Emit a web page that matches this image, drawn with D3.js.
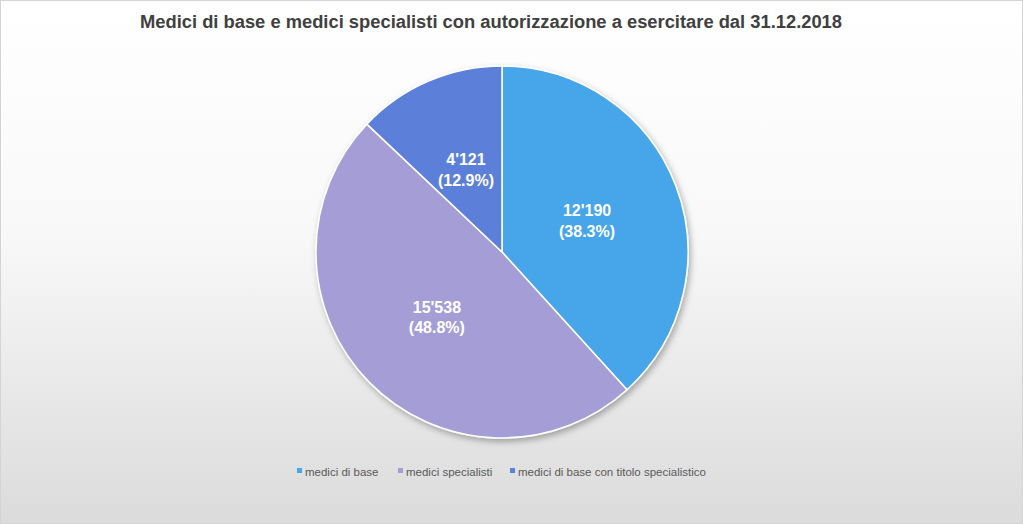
<!DOCTYPE html>
<html>
<head>
<meta charset="utf-8">
<script src="https://d3js.org/d3.v7.min.js"></script>
<style>
  body { margin: 0; }
  svg { display: block; font-family: "Liberation Sans", Arial, sans-serif; }
</style>
</head>
<body>
<svg width="1023" height="524"></svg>
<script>
// chart data
var titleText = "Medici di base e medici specialisti con autorizzazione a esercitare dal 31.12.2018";
var categories = ["medici di base", "medici specialisti", "medici di base con titolo specialistico"];
var values = [12190, 15538, 4121];
var colors = ["#47a5ea", "#a59dd5", "#5b80da"];

var svg = d3.select("svg"),
    width = +svg.attr("width"),
    height = +svg.attr("height");

var defs = svg.append("defs");
var grad = defs.append("linearGradient")
    .attr("id", "bg").attr("x1", 0).attr("y1", 0).attr("x2", 0).attr("y2", 1);
grad.append("stop").attr("offset", "0%").attr("stop-color", "#ffffff");
grad.append("stop").attr("offset", "45%").attr("stop-color", "#f8f8f8");
grad.append("stop").attr("offset", "100%").attr("stop-color", "#dbdbdb");

var shadow = defs.append("filter").attr("id", "shadow")
    .attr("x", "-10%").attr("y", "-10%").attr("width", "130%").attr("height", "130%");
shadow.append("feDropShadow")
    .attr("dx", 2).attr("dy", 3).attr("stdDeviation", 3)
    .attr("flood-color", "#000").attr("flood-opacity", 0.3);

// background + border
svg.append("rect")
    .attr("x", 0.5).attr("y", 0.5)
    .attr("width", width - 1).attr("height", height - 1)
    .attr("fill", "url(#bg)")
    .attr("stroke", "#d4d4d4");

// title
svg.append("text")
    .attr("x", 491).attr("y", 28)
    .attr("text-anchor", "middle")
    .attr("font-size", 17.5)
    .attr("font-weight", "bold")
    .attr("fill", "#404040")
    .attr("textLength", 702)
    .attr("lengthAdjust", "spacingAndGlyphs")
    .text(titleText);

// pie
var cx = 502, cy = 252, radius = 186;
var total = d3.sum(values);
var fmt = d3.formatLocale({ decimal: ".", thousands: "'", grouping: [3], currency: ["", ""] }).format(",d");

var pie = d3.pie().sort(null).value(function (d) { return d; });
var arcs = pie(values);
var arc = d3.arc().innerRadius(0).outerRadius(radius);
var labelArc = d3.arc().innerRadius(radius * 0.49).outerRadius(radius * 0.49);

var g = svg.append("g").attr("transform", "translate(" + cx + "," + cy + ")");

g.append("g").attr("filter", "url(#shadow)")
  .selectAll("path")
  .data(arcs)
  .enter().append("path")
    .attr("d", arc)
    .attr("fill", function (d, i) { return colors[i]; })
    .attr("stroke", "#ffffff")
    .attr("stroke-width", 1.5);

var labels = g.selectAll("text.lbl")
  .data(arcs)
  .enter().append("text")
    .attr("class", "lbl")
    .attr("transform", function (d) { return "translate(" + labelArc.centroid(d) + ")"; })
    .attr("text-anchor", "middle")
    .attr("font-size", 16)
    .attr("font-weight", "bold")
    .attr("fill", "#ffffff");
labels.append("tspan")
    .attr("x", 0).attr("dy", "-0.2em")
    .text(function (d) { return fmt(d.value); });
labels.append("tspan")
    .attr("x", 0).attr("dy", "1.3em")
    .text(function (d) { return "(" + (d.value / total * 100).toFixed(1) + "%)"; });

// legend
var legendX = [297, 398, 510];
var lg = svg.append("g").attr("class", "legend");
var item = lg.selectAll("g")
  .data(categories)
  .enter().append("g")
    .attr("transform", function (d, i) { return "translate(" + legendX[i] + ",472)"; });
item.append("rect")
    .attr("x", 0).attr("y", -4)
    .attr("width", 5).attr("height", 5)
    .attr("fill", function (d, i) { return colors[i]; });
item.append("text")
    .attr("x", 8).attr("y", 0)
    .attr("dy", "0.35em")
    .attr("font-size", 11.5)
    .attr("fill", "#595959")
    .text(function (d) { return d; });
</script>
</body>
</html>
